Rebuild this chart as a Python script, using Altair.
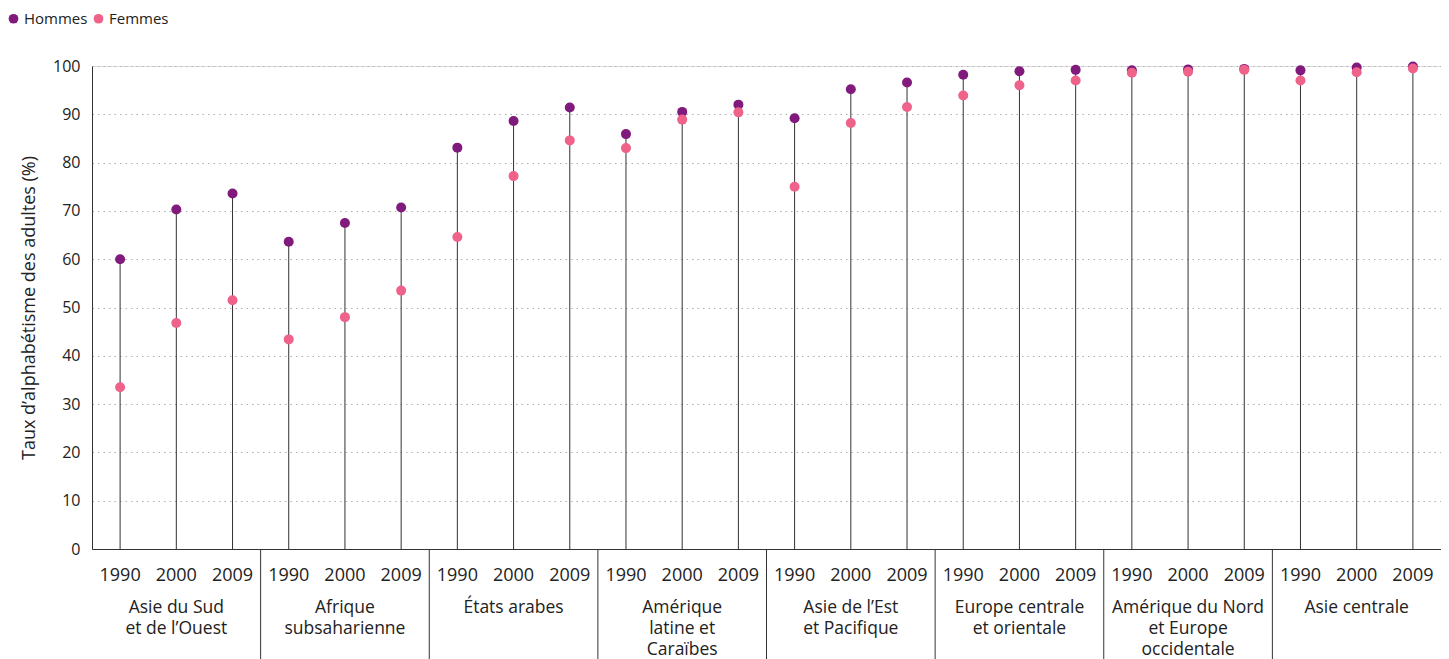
import altair as alt
import pandas as pd

regions = ["Asie du Sud\net de l’Ouest", "Afrique\nsubsaharienne", "États arabes",
           "Amérique\nlatine et\nCaraïbes", "Asie de l’Est\net Pacifique",
           "Europe centrale\net orientale", "Amérique du Nord\net Europe\noccidentale",
           "Asie centrale"]
years = ["1990", "2000", "2009"]
hommes = [60.0, 70.3, 73.6, 63.6, 67.5, 70.7, 83.1, 88.6, 91.4, 85.9, 90.5, 92.0,
          89.2, 95.2, 96.6, 98.2, 98.9, 99.2, 99.1, 99.3, 99.4, 99.1, 99.7, 99.9]
femmes = [33.5, 46.8, 51.5, 43.4, 48.0, 53.5, 64.6, 77.2, 84.6, 83.0, 88.9, 90.4,
          75.0, 88.2, 91.5, 93.9, 96.0, 97.0, 98.6, 98.8, 99.2, 97.0, 98.7, 99.5]
series = ["Hommes", "Femmes"]
colors = ["#801a7c", "#ef6289"]

keys = [f"g{i}_{y}" for i in range(len(regions)) for y in years]

wide = pd.DataFrame({"key": keys, "hommes": hommes, "base": [0] * len(keys)})
long = pd.DataFrame({
    "key": keys + keys,
    "value": hommes + femmes,
    "sexe": ["Hommes"] * len(keys) + ["Femmes"] * len(keys),
})
lab = pd.DataFrame({"key": [f"g{i}_2000" for i in range(len(regions))], "label": regions})
sep = pd.DataFrame({"key": [f"g{i}_1990" for i in range(1, len(regions))]})

W, H = 1349, 483
FONT = "Open Sans"
TXT = "#222222"

xscale = alt.Scale(domain=keys, paddingInner=0, paddingOuter=0)
xaxis = alt.Axis(title=None, labelExpr="slice(datum.value, -4)", labelAngle=0, ticks=False,
                 domainColor="#333333", domainWidth=1, labelFontSize=18, labelPadding=17,
                 labelColor=TXT, labelFont=FONT, grid=False)
yaxis = alt.Axis(title="Taux d’alphabétisme des adultes (%)", values=list(range(0, 101, 10)),
                 grid=True, gridDash=[1.5, 4], gridColor="#b0b0b0", ticks=False,
                 domainColor="#333333", labelFontSize=16, labelPadding=12, labelColor=TXT,
                 labelFont=FONT, titleFont=FONT, titleFontSize=18, titleFontWeight="normal",
                 titleColor=TXT, titlePadding=14)

stems = alt.Chart(wide).mark_rule(color="#333333", strokeWidth=1).encode(
    x=alt.X("key:N", scale=xscale, axis=xaxis, sort=keys),
    y=alt.Y("base:Q", scale=alt.Scale(domain=[0, 100]), axis=yaxis),
    y2="hommes:Q",
)

points = alt.Chart(long).mark_point(filled=True, opacity=1, size=100).encode(
    x=alt.X("key:N", scale=xscale, sort=keys),
    y=alt.Y("value:Q"),
    color=alt.Color("sexe:N", scale=alt.Scale(domain=series, range=colors),
                    legend=alt.Legend(title=None, orient="none", direction="horizontal",
                                      legendX=-86, legendY=-55, symbolType="circle",
                                      symbolSize=95, symbolStrokeWidth=0,
                                      labelFontSize=15, labelFont=FONT,
                                      labelColor=TXT, labelOffset=3, columnPadding=3,
                                      padding=0)),
)

labels = alt.Chart(lab).mark_text(lineBreak="\n", lineHeight=21, fontSize=17.5, font=FONT,
                                  color=TXT, baseline="middle", align="center").encode(
    x=alt.X("key:N", scale=xscale, sort=keys),
    y=alt.value(H + 59),
    text="label:N",
)

seps = alt.Chart(sep).mark_rule(color="#333333", strokeWidth=1).encode(
    x=alt.X("key:N", scale=xscale, sort=keys, bandPosition=0),
    y=alt.value(H),
    y2=alt.value(H + 110),
)

chart = alt.layer(stems, seps, points, labels).properties(
    width=W, height=H,
    autosize=alt.AutoSizeParams(type="none"),
    padding={"left": 84, "top": 58, "right": 0, "bottom": 110},
).configure_view(stroke=None).configure(background="white")

chart.save("out.html", embed_options={"renderer": "svg", "actions": False})
